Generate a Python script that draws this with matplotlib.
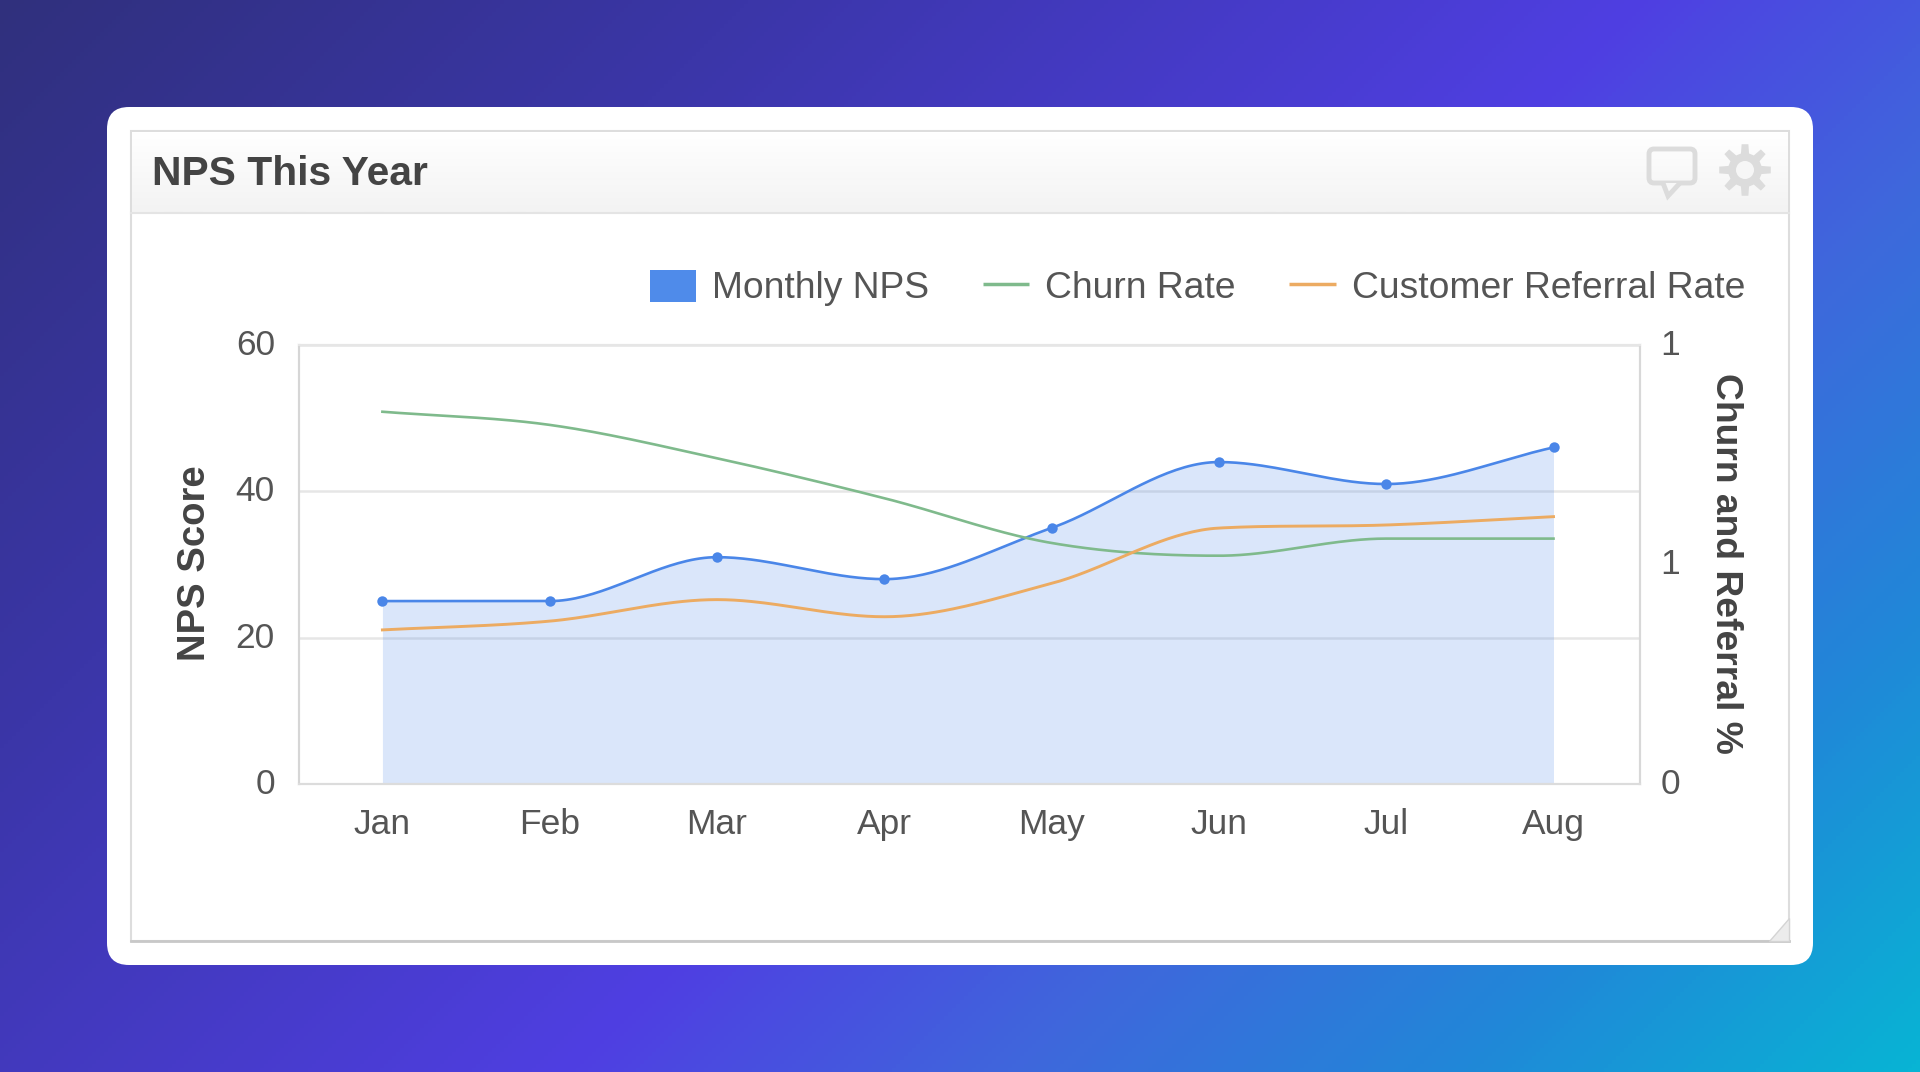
import numpy as np
import matplotlib
matplotlib.use("Agg")
import matplotlib.pyplot as plt
from matplotlib.patches import FancyBboxPatch, Polygon, Rectangle, Patch, Circle
from matplotlib.lines import Line2D
from matplotlib.colors import LinearSegmentedColormap
from matplotlib.transforms import ScaledTranslation

months = ["Jan", "Feb", "Mar", "Apr", "May", "Jun", "Jul", "Aug"]
monthly_nps = [25, 25, 31, 28, 35, 44, 41, 46]
churn_rate = [0.848, 0.818, 0.742, 0.651, 0.549, 0.520, 0.559, 0.559]
referral_rate = [0.351, 0.371, 0.420, 0.381, 0.457, 0.583, 0.590, 0.609]
left_ticks = [0, 20, 40, 60]
right_ticks = [0, 0.5, 1]
right_tick_labels = ["0", "1", "1"]

W, H = 1920, 1072
BLUE, GREEN, ORANGE = "#4a86e8", "#7fba8c", "#ecab62"
TEXT = "#555555"
plt.rcParams["font.family"] = ["Liberation Sans", "DejaVu Sans"]


def smooth(x, y, n=40):
    """Smooth monotone curve through the points, as the chart library draws it."""
    x, y = np.asarray(x, float), np.asarray(y, float)
    d = np.diff(y) / np.diff(x)
    m = np.zeros_like(y)
    m[0], m[-1] = d[0], d[-1]
    for i in range(1, len(y) - 1):
        if d[i - 1] * d[i] > 0:
            lim = 3 * min(abs(d[i - 1]), abs(d[i]))
            m[i] = np.sign(d[i]) * min(abs(d[i - 1] + d[i]) / 2, lim)
    xs, ys = [], []
    for i in range(len(x) - 1):
        h = x[i + 1] - x[i]
        t = np.linspace(0, 1, n)
        xs.append(x[i] + t * h)
        ys.append((2 * t**3 - 3 * t**2 + 1) * y[i] + (t**3 - 2 * t**2 + t) * h * m[i]
                  + (-2 * t**3 + 3 * t**2) * y[i + 1] + (t**3 - t**2) * h * m[i + 1])
    return np.concatenate(xs), np.concatenate(ys)


fig = plt.figure(figsize=(W / 100, H / 100), dpi=100)

# page background and card, in pixel coordinates
bg = fig.add_axes([0, 0, 1, 1], zorder=0)
bg.set_xlim(0, W)
bg.set_ylim(H, 0)
bg.axis("off")
gx, gy = np.meshgrid(np.linspace(0, 1, 480) * W, np.linspace(0, 1, 268) * H)
grad = (gx + gy) / (W + H)
cmap = LinearSegmentedColormap.from_list("page", [
    (0.0, "#30307d"), (0.25, "#3b36a8"), (0.55, "#4f3fe2"),
    (0.70, "#3f67dc"), (0.85, "#2088d8"), (1.0, "#08b4d4")])
bg.imshow(grad, cmap=cmap, vmin=0, vmax=1, extent=(0, W, H, 0), aspect="auto", zorder=0)
bg.add_patch(FancyBboxPatch((107 + 22, 107 + 22), 1706 - 44, 858 - 44,
                            boxstyle="round,pad=22,rounding_size=22",
                            fc="white", ec="none", zorder=1))
bg.add_patch(Rectangle((131, 131), 1657.5, 810, fc="white", ec="#dddddd", lw=1.5, zorder=2))
bg.plot([131, 1788.5], [941, 941], color="#c8c8c8", lw=2, zorder=3)
hdr = np.linspace(0, 1, 64)[:, None]
bg.imshow(hdr, cmap=LinearSegmentedColormap.from_list("h", ["#ffffff", "#f3f3f3"]),
          extent=(132, 1787.5, 212, 132), aspect="auto", zorder=2.5)
bg.plot([131, 1788.5], [213, 213], color="#e4e4e4", lw=1.5, zorder=3)
bg.set_xlim(0, W)
bg.set_ylim(H, 0)
bg.text(152, 174, "NPS This Year", fontsize=29.3, fontweight="bold", color="#444444",
        ha="left", va="center", zorder=4)

# header icons
ICON = "#dcdcdc"
bg.add_patch(FancyBboxPatch((1652, 152), 40, 28, boxstyle="round,pad=3,rounding_size=5",
                            fc="none", ec=ICON, lw=3.5, zorder=4))
bg.add_patch(Polygon([[1663, 183], [1668, 196], [1680, 183]], closed=False,
                     fc="#f8f8f8", ec=ICON, lw=3.5, zorder=4))
angles = np.linspace(0, 2 * np.pi, 8, endpoint=False)
teeth = []
for a in angles:
    for da, r in [(-0.24, 17), (-0.13, 26), (0.13, 26), (0.24, 17)]:
        teeth.append([1745 + r * np.cos(a + da), 170 + r * np.sin(a + da)])
bg.add_patch(Polygon(teeth, closed=True, fc=ICON, ec="none", zorder=4))
bg.add_patch(Circle((1745, 170), 9, fc="#f6f6f6", ec="none", zorder=5))
bg.add_patch(Polygon([[1788.5, 918], [1788.5, 941], [1769, 941]], closed=True,
                     fc="#ececec", ec="#d4d4d4", lw=1, zorder=4))

# chart
L, R, T, B = 298.6, 1640, 345, 784
ax = fig.add_axes([L / W, 1 - B / H, (R - L) / W, (B - T) / H], zorder=2)
ax.patch.set_alpha(0)
x = np.arange(len(months))
ax.set_xlim(-0.501, 7.517)
ax.set_ylim(0, 60)
ax.set_yticks(left_ticks)
ax.set_xticks(x, months)
ax.grid(axis="y", color="#e6e6e6", lw=1.8, zorder=1)
ax.set_axisbelow(True)
ax.tick_params(axis="both", length=0, colors=TEXT, labelsize=25.5)
ax.tick_params(axis="y", pad=17)
ax.tick_params(axis="x", pad=17)
sx, sy = smooth(x, monthly_nps)
ax.fill_between(sx, 0, sy, color=BLUE, alpha=0.2, lw=0, zorder=2)
ax.plot(sx, sy, color=BLUE, lw=1.9, zorder=3)
ax.plot(x, monthly_nps, ls="none", marker="o", ms=7.5, color=BLUE, mec="none", zorder=4)
ax.set_ylabel("NPS Score", fontsize=27.5, fontweight="bold", color="#444444", va="center", ha="center")
ax.yaxis.set_label_coords((195 - L) / (R - L), 0.503)

ax2 = ax.twinx()
ax2.set_zorder(3)
ax2.patch.set_alpha(0)
ax2.set_ylim(0, 1)
ax2.set_yticks(right_ticks, right_tick_labels)
ax2.tick_params(axis="y", length=0, colors=TEXT, labelsize=25.5, pad=14.5)
cx, cy = smooth(x, churn_rate)
ax2.plot(cx, cy, color=GREEN, lw=1.9)
rx, ry = smooth(x, referral_rate)
ax2.plot(rx, ry, color=ORANGE, lw=2.1)
ax2.set_ylabel("Churn and Referral %", fontsize=26.8, fontweight="bold", color="#444444",
               rotation=270, va="center", ha="center")
ax2.yaxis.set_label_coords((1726 - L) / (R - L), 0.503)

# the reference's value labels sit a little above their gridlines
up = ScaledTranslation(0, 3 / 100, fig.dpi_scale_trans)
for a in (ax, ax2):
    for lab in a.get_yticklabels():
        lab.set_transform(lab.get_transform() + up)

for a in (ax, ax2):
    a.spines["top"].set_color("#e6e6e6")
    a.spines["left"].set_color("#d6d6d6")
    a.spines["right"].set_color("#d8d8d8")
    a.spines["bottom"].set_color("#dcdcdc")
    for s in a.spines.values():
        s.set_linewidth(1.5)

handles = [Patch(fc="#4f8bea", ec="none"),
           Line2D([], [], color=GREEN, lw=2.5, solid_capstyle="butt"),
           Line2D([], [], color=ORANGE, lw=2.5, solid_capstyle="butt")]
leg = ax2.legend(handles, ["Monthly NPS", "Churn Rate", "Customer Referral Rate"],
                 ncol=3, frameon=False, loc="center right",
                 bbox_to_anchor=(1745 / W, 1 - 288 / H), bbox_transform=fig.transFigure,
                 borderaxespad=0, borderpad=0, fontsize=26.8, labelcolor=TEXT,
                 handlelength=1.25, handleheight=0.95, handletextpad=0.42, columnspacing=1.45)

fig.savefig("out.png", dpi=100)
